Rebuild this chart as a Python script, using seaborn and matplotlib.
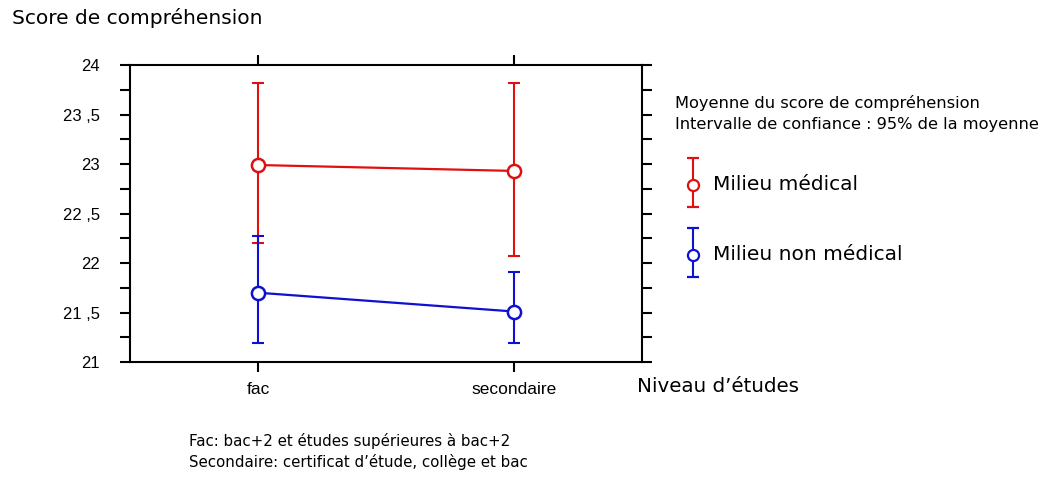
import numpy as np
import pandas as pd
import matplotlib
matplotlib.use("Agg")
import matplotlib.pyplot as plt
import seaborn as sns

# Data
niveaux = ["fac", "secondaire"]
groupes = ["Milieu médical", "Milieu non médical"]
moy_medical = [22.99, 22.93]
bas_medical = [22.20, 22.07]
haut_medical = [23.82, 23.82]
moy_non_medical = [21.70, 21.51]
bas_non_medical = [21.19, 21.19]
haut_non_medical = [22.27, 21.91]
couleurs = {"Milieu médical": "#e01010", "Milieu non médical": "#1010d0"}

df = pd.DataFrame({
    "x": [0, 1, 0, 1],
    "score": moy_medical + moy_non_medical,
    "bas": bas_medical + bas_non_medical,
    "haut": haut_medical + haut_non_medical,
    "groupe": [groupes[0]] * 2 + [groupes[1]] * 2,
})

sns.set_style("white")
plt.rcParams["font.family"] = ["DejaVu Sans"]
plt.rcParams["text.color"] = "black"
plt.rcParams["xtick.color"] = "black"
plt.rcParams["ytick.color"] = "black"

fig = plt.figure(figsize=(10.5, 4.83), dpi=100)
ax = fig.add_axes([0.1238, 0.2505, 0.4876, 0.6149])

# error bars (95% CI) then the means on top
for g in groupes:
    d = df[df["groupe"] == g]
    ax.errorbar(d["x"], d["score"], yerr=[d["score"] - d["bas"], d["haut"] - d["score"]],
                fmt="none", ecolor=couleurs[g], elinewidth=1.5, capsize=4.3, capthick=1.5, zorder=2)
    sns.lineplot(data=d, x="x", y="score", color=couleurs[g], marker="o",
                 markersize=9.5, markerfacecolor="white", markeredgecolor=couleurs[g],
                 markeredgewidth=1.8, linewidth=1.6, ax=ax, zorder=3)

ax.set_xlim(-0.5, 1.5)
ax.set_ylim(21, 24)
ax.set_xticks([0, 1])
ax.set_xticklabels(niveaux, family="Liberation Sans", fontsize=12.5)
yt = np.arange(21, 24.001, 0.25)
ax.set_yticks(yt)
ax.set_yticklabels([(f"{v:g}".replace(".", " ,") if abs(v * 2 - round(v * 2)) < 1e-6 else "") for v in yt],
                   family="Liberation Sans", fontsize=12)
ax.tick_params(axis="both", direction="out", length=7.5, width=1.5, left=True, bottom=True,
               top=True, right=True, labeltop=False, labelright=False)
ax.tick_params(axis="y", pad=14)
ax.tick_params(axis="x", pad=7)
for s in ax.spines.values():
    s.set_linewidth(1.5)
    s.set_color("black")
ax.set_xlabel("")
ax.set_ylabel("")

fig.text(0.011, 0.962, "Score de compréhension", fontsize=14.5, va="center")
fig.text(0.607, 0.200, "Niveau d’études", fontsize=14.3, va="center")
fig.text(0.643, 0.787, "Moyenne du score de compréhension", fontsize=11.7, va="center")
fig.text(0.643, 0.743, "Intervalle de confiance : 95% de la moyenne", fontsize=11.7, va="center")
fig.text(0.180, 0.087, "Fac: bac+2 et études supérieures à bac+2", fontsize=10.8, va="center")
fig.text(0.180, 0.043, "Secondaire: certificat d’étude, collège et bac", fontsize=10.8, va="center")

# legend glyphs
lax = fig.add_axes([0.63, 0.40, 0.06, 0.30])
lax.set_xlim(0, 1)
lax.set_ylim(0, 1)
lax.axis("off")
leg_y = [0.724, 0.241]
for g, y in zip(groupes, leg_y):
    lax.errorbar([0.5], [y], yerr=[[0.152], [0.186]], fmt="o", color=couleurs[g], mfc="white",
                 markersize=8, mew=1.6, elinewidth=1.5, capsize=4.3, capthick=1.5)
    fig.text(0.679, 0.40 + 0.30 * y, g, fontsize=14.5, va="center")

fig.savefig("out.png", dpi=100)
